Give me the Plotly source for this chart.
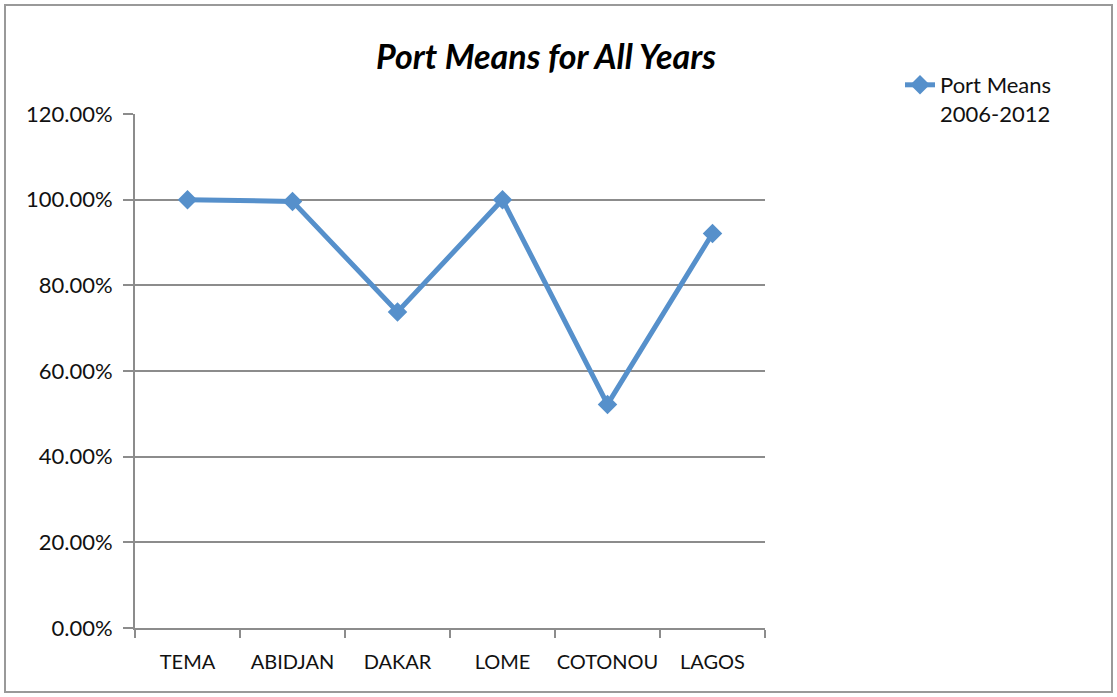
import plotly.graph_objects as go

ports = ["TEMA", "ABIDJAN", "DAKAR", "LOME", "COTONOU", "LAGOS"]
port_means = [1.000, 0.996, 0.738, 1.000, 0.522, 0.921]
y_ticks = [0, 0.2, 0.4, 0.6, 0.8, 1.0, 1.2]
y_tick_labels = ["0.00%", "20.00%", "40.00%", "60.00%", "80.00%", "100.00%", "120.00%"]

blue = "#5690CB"
grey = "#8C8C8C"
font_family = "Lato, 'Open Sans', sans-serif"

fig = go.Figure()
fig.add_trace(go.Scatter(
    x=ports, y=port_means, mode="lines+markers",
    name="Port Means<br>2006-2012",
    line=dict(color=blue, width=5),
    marker=dict(symbol="diamond", size=15, color=blue),
))

fig.update_layout(
    width=1117, height=697,
    margin=dict(l=135, r=352, t=114, b=69),
    paper_bgcolor="white", plot_bgcolor="white",
    font=dict(family=font_family, size=21, color="#111111"),
    title=dict(text="<b><i>Port Means for All Years</i></b>", x=(546)/1117, xanchor="center",
               y=1 - 57/697, yanchor="middle",
               font=dict(family=font_family, size=34, color="#000000")),
    showlegend=True,
    legend=dict(x=(900-135)/630, y=(628-64)/514, xanchor="left", yanchor="top",
                font=dict(size=22, color="#111111"), bgcolor="rgba(0,0,0,0)",
                itemwidth=30, valign="top"),
    xaxis=dict(type="category", range=[-0.5, 5.5], showgrid=False,
               showline=True, linecolor=grey, linewidth=2,
               ticks="outside", ticklen=8, tickcolor=grey, tickwidth=2,
               tickson="boundaries", tickfont=dict(size=20), ticklabelstandoff=15,
               tickangle=0, automargin=False),
    yaxis=dict(range=[0, 1.2], tickvals=y_ticks, ticktext=y_tick_labels,
               showgrid=True, gridcolor=grey, gridwidth=2,
               showline=True, linecolor=grey, linewidth=2,
               ticks="outside", ticklen=10, tickcolor=grey, tickwidth=2,
               ticklabelstandoff=6, automargin=False,
               zeroline=False, tickfont=dict(size=22)),
    shapes=[dict(type="rect", xref="paper", yref="paper",
                 x0=(5-135)/630, x1=(1112-135)/630,
                 y0=(628-692)/514, y1=(628-5)/514,
                 line=dict(color="#999999", width=2), layer="below")],
)

fig.write_html("out.html")
